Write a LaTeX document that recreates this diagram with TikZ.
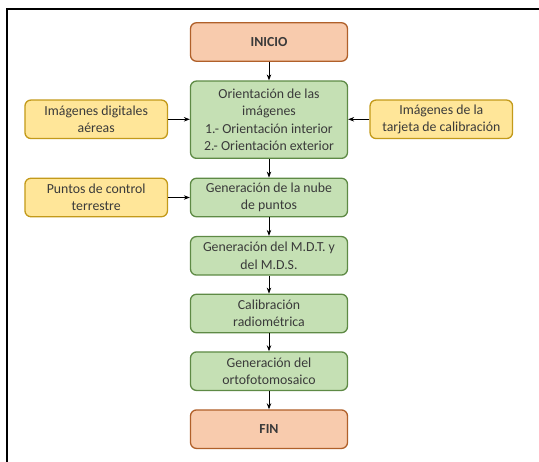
\documentclass[tikz,border=0pt]{standalone}
\usepackage{fontspec}
\setmainfont{Carlito}
\usetikzlibrary{arrows.meta}
\definecolor{startfill}{HTML}{F8CBAD}
\definecolor{startline}{HTML}{B0602A}
\definecolor{stepfill}{HTML}{C5E0B4}
\definecolor{stepline}{HTML}{5E8A45}
\definecolor{inputfill}{HTML}{FFE699}
\definecolor{inputline}{HTML}{C39A1A}
\definecolor{txt}{HTML}{3A3A3A}
\tikzset{
  box/.style={rectangle, rounded corners=6pt, line width=1.3pt, inner sep=0pt,
    minimum width=157pt, minimum height=38.5pt, align=center, text=txt,
    font=\fontsize{13.8}{17.3}\selectfont},
  endbox/.style={box, fill=startfill, draw=startline, font=\fontsize{13.8}{17.3}\selectfont\bfseries},
  stepbox/.style={box, fill=stepfill, draw=stepline},
  inbox/.style={box, fill=inputfill, draw=inputline, minimum width=142.5pt},
  flow/.style={line width=0.9pt, -{Stealth[length=6pt,width=4.5pt]}}
}
\begin{document}
\begin{tikzpicture}[x=1pt,y=-1pt]
\useasboundingbox (0,0) rectangle (539,462);
% outer frame
\draw[line width=2pt] (539,9.5) -- (7,9.5) -- (7,462);
% main sequence
\node[endbox] (inicio) at (269,42) {INICIO};
\node[stepbox, minimum height=77.3pt] (orient) at (269,119.7)
  {Orientación de las\\imágenes\\1.- Orientación interior\\2.- Orientación exterior};
\node[stepbox] (nube) at (269,197.5) {Generación de la nube\\de puntos};
\node[stepbox] (mdt) at (269,255.8) {Generación del M.D.T. y\\del M.D.S.};
\node[stepbox] (calib) at (269,313.5) {Calibración\\radiométrica};
\node[stepbox] (orto) at (269,371.2) {Generación del\\ortofotomosaico};
\node[endbox] (fin) at (269,429.2) {FIN};
% inputs
\node[inbox] (imgs) at (96.2,119.3) {Imágenes digitales\\aéreas};
\node[inbox] (tarjeta) at (441.3,119.3) {Imágenes de la\\tarjeta de calibración};
\node[inbox] (pcontrol) at (96.2,197.5) {Puntos de control\\terrestre};
% connectors
\draw[flow] (inicio) -- (orient);
\draw[flow] (orient) -- (nube);
\draw[flow] (nube) -- (mdt);
\draw[flow] (mdt) -- (calib);
\draw[flow] (calib) -- (orto);
\draw[flow] (orto) -- (fin);
\draw[flow] (imgs.east) -- (imgs.east -| orient.west);
\draw[flow] (tarjeta.west) -- (tarjeta.west -| orient.east);
\draw[flow] (pcontrol) -- (nube);
\end{tikzpicture}
\end{document}
